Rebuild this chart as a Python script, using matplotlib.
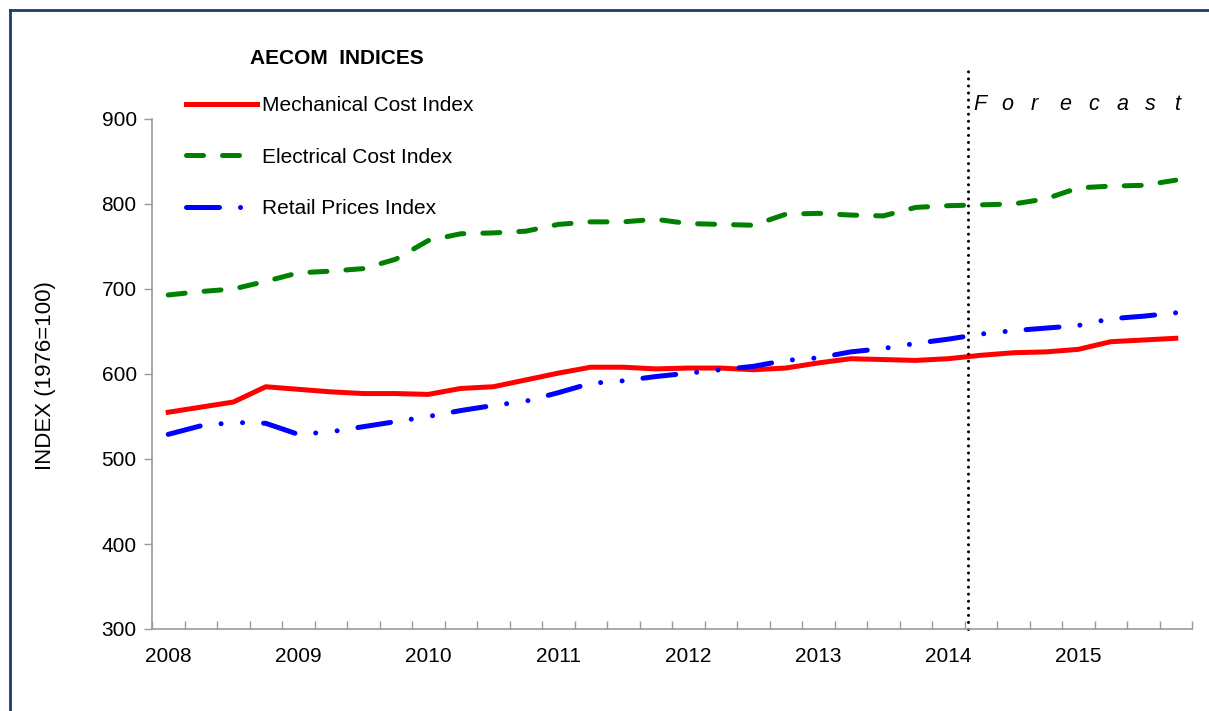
import numpy as np
import matplotlib
matplotlib.use('Agg')
import matplotlib.pyplot as plt
from matplotlib.lines import Line2D

plt.rcParams['font.family'] = ['Liberation Sans', 'DejaVu Sans']

# quarterly values, 2008 Q1 .. 2015 Q4
years = ['2008', '2009', '2010', '2011', '2012', '2013', '2014', '2015']
mechanical = [555, 561, 567, 585, 582, 579, 577, 577, 576, 583, 585, 593,
              601, 608, 608, 606, 607, 607, 605, 607, 613, 618, 617, 616,
              618, 622, 625, 626, 629, 638, 640, 642]
electrical = [693, 697, 700, 709, 719, 721, 724, 735, 757, 765, 766, 768,
              776, 779, 779, 782, 777, 776, 775, 788, 789, 787, 786, 796,
              798, 799, 800, 806, 819, 821, 822, 828]
retail = [529, 539, 543, 542, 529, 532, 538, 544, 550, 557, 563, 568,
          578, 589, 592, 597, 601, 605, 609, 616, 619, 626, 630, 636,
          641, 647, 651, 654, 657, 665, 668, 672]
forecast_start = 24.6  # quarters from 2008 Q1

W, H = 1209, 711
fig = plt.figure(figsize=(W / 100, H / 100), dpi=100)
ax = fig.add_axes([152 / W, 1 - 629 / H, (1192 - 152) / W, (629 - 119) / H])

x = np.arange(len(mechanical))
lw = 3.6
l1, = ax.plot(x, mechanical, color='#ff0000', lw=lw, solid_joinstyle='round',
              label='Mechanical Cost Index')
l2, = ax.plot(x, electrical, color='#008000', lw=lw, dashes=(3.4, 3.8),
              dash_capstyle='round', label='Electrical Cost Index')
l3, = ax.plot(x, retail, color='#0000ff', lw=lw, dashes=(6.6, 4.2, 0.01, 4.3, 0.01, 4.2),
              dash_capstyle='round', label='Retail Prices Index')

# forecast marker runs above the plot area
ax.plot([forecast_start, forecast_start], [300, 962], color='black', lw=2.2,
        linestyle=(0, (0.01, 2.3)), dash_capstyle='round', clip_on=False)

ax.set_xlim(-0.5, len(x) - 0.5)
ax.set_ylim(300, 900)
ax.set_yticks(np.arange(300, 901, 100))
ax.tick_params(axis='y', direction='out', length=6, width=1, color='#999999',
               labelsize=15, pad=5)

ax.set_xticks(np.arange(-0.5, len(x), 1))
ax.set_xticklabels([])
ax.tick_params(axis='x', which='major', direction='in', length=6, width=1, color='#999999')
ax.set_xticks(np.arange(0, len(x), 4), minor=True)
ax.set_xticklabels(years, minor=True)
ax.tick_params(axis='x', which='minor', length=0, labelsize=15, pad=13)

for s in ['top', 'right']:
    ax.spines[s].set_visible(False)
for s in ['left', 'bottom']:
    ax.spines[s].set_color('#999999')
    ax.spines[s].set_linewidth(1.2)

ax.set_ylabel('INDEX (1976=100)', fontsize=16)
ax.yaxis.set_label_coords(56 / W, (711 - 376) / H, transform=fig.transFigure)

fig.text(250 / W, 1 - 59 / H, 'AECOM  INDICES', fontsize=15, fontweight='bold',
         va='center', ha='left')
fig.legend(handles=[l1, l2, l3], loc='upper left',
           bbox_to_anchor=(186 / W, 1 - 96 / H), frameon=False, fontsize=15,
           handlelength=3.4, handletextpad=0.25, labelspacing=1.57,
           borderpad=0, borderaxespad=0)

for k, ch in enumerate('Forecast'):
    fig.text((973 + k * 28.7) / W, 1 - 104 / H, ch, fontsize=15.5, style='italic',
             va='center', ha='left')

# outer frame (left and top edges)
fig.add_artist(Line2D([10 / W, 10 / W], [0, 1 - 10 / H], color='#1f3a6e', lw=2,
                      transform=fig.transFigure))
fig.add_artist(Line2D([10 / W, 1], [1 - 10 / H, 1 - 10 / H], color='#1f3a6e', lw=2,
                      transform=fig.transFigure))

fig.savefig('out.png', dpi=100)
